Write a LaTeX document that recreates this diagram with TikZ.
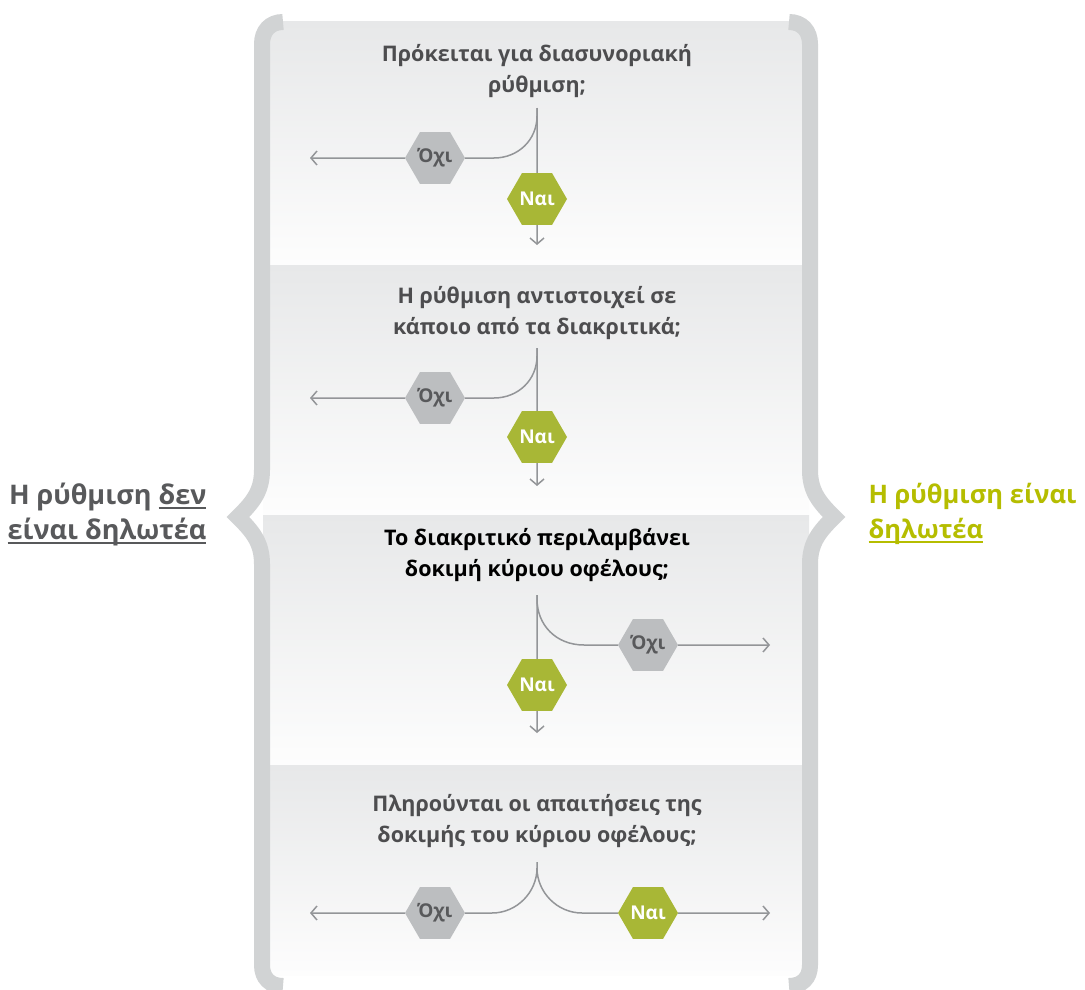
\documentclass[tikz,border=0pt]{standalone}
\usepackage{fontspec}
\setmainfont{Open Sans}
\usetikzlibrary{shapes.geometric,arrows.meta}
\definecolor{brk}{HTML}{D1D3D4}
\definecolor{ptop}{HTML}{E7E8E9}
\definecolor{pbot}{HTML}{FDFDFD}
\definecolor{ln}{HTML}{939598}
\definecolor{hexg}{HTML}{BCBEC0}
\definecolor{hexy}{HTML}{A8B736}
\definecolor{txtd}{HTML}{4D4D4F}
\definecolor{txtl}{HTML}{58595B}
\definecolor{olive}{HTML}{B5BD00}
\newcommand\myul[1]{\leavevmode\setbox0\hbox{#1}\rlap{\rule[-4.5pt]{\wd0}{1.7pt}}\box0}
\tikzset{
  bracket/.style={draw=brk,line width=16pt,line join=miter},
  panel/.style={top color=ptop,bottom color=pbot,draw=none},
  flow/.style={draw=ln,line width=1.5pt},
  flowarrow/.style={flow,-{Straight Barb[length=6pt,width=14pt,line width=1.5pt]}},
  hexbase/.style={regular polygon,regular polygon sides=6,minimum size=60pt,inner sep=0pt,font=\fontsize{19}{19}\selectfont\bfseries},
  hexno/.style={hexbase,fill=hexg,text=txtl},
  hexyes/.style={hexbase,fill=hexy,text=white},
  question/.style={align=center,font=\fontsize{21.5}{31}\selectfont\bfseries,text=txtd},
  side/.style={font=\fontsize{27}{35}\selectfont\bfseries}
}
\begin{document}
\begin{tikzpicture}[x=1pt,y=-1pt]
\useasboundingbox (0,0) rectangle (1085,990);
\fill[white] (0,0) rectangle (1085,990);
% panels
\shade[panel] (263,22) rectangle (809,265);
\shade[panel] (263,265) rectangle (809,515);
\shade[panel] (263,515) rectangle (809,765);
\shade[panel] (263,765) rectangle (809,975);
% brackets
\draw[bracket] (283,22) .. controls (270,22) and (262,31) .. (262,44) -- (262,470)
  .. controls (262,492) and (252,503) .. (238,517)
  .. controls (252,531) and (262,542) .. (262,564) -- (262,965)
  .. controls (262,978) and (270,986) .. (283,986);
\draw[bracket] (789,22) .. controls (802,22) and (810,31) .. (810,44) -- (810,470)
  .. controls (810,492) and (820,503) .. (834,517)
  .. controls (820,531) and (810,542) .. (810,564) -- (810,965)
  .. controls (810,978) and (802,986) .. (789,986);
% questions
\node[question] (q1) at (537,71) {Πρόκειται για διασυνοριακή\\ρύθμιση;};
\node[question] (q2) at (537,313) {Η ρύθμιση αντιστοιχεί σε\\κάποιο από τα διακριτικά;};
\node[question,text=black] (q3) at (537,555) {Το διακριτικό περιλαμβάνει\\δοκιμή κύριου οφέλους;};
\node[question] (q4) at (537,821) {Πληρούνται οι απαιτήσεις της\\δοκιμής του κύριου οφέλους;};
% side labels
\node[side,text=txtl,align=right,anchor=east] (lt) at (210,514) {Η ρύθμιση \myul{δεν}\\\myul{είναι δηλωτέα}};
\node[side,text=olive,align=left,anchor=west,font=\fontsize{25.5}{35}\selectfont\bfseries] (rt) at (865,514) {Η ρύθμιση είναι\\\myul{δηλωτέα}};
% coordinates
\coordinate (s1) at (537,108); \coordinate (e1L) at (310,158); \coordinate (e1D) at (537,245);
\coordinate (s2) at (537,348); \coordinate (e2L) at (310,398); \coordinate (e2D) at (537,486);
\coordinate (s3) at (537,595); \coordinate (e3R) at (770,645); \coordinate (e3D) at (537,733);
\coordinate (s4) at (537,862); \coordinate (e4L) at (310,913); \coordinate (e4R) at (770,913);
% hexagons
\node[hexno] (no1) at (435,158) {Όχι};
\node[hexyes] (yes1) at (537,199) {Ναι};
\node[hexno] (no2) at (435,398) {Όχι};
\node[hexyes] (yes2) at (537,437) {Ναι};
\node[hexno] (no3) at (648,645) {Όχι};
\node[hexyes] (yes3) at (537,685) {Ναι};
\node[hexno] (no4) at (435,913) {Όχι};
\node[hexyes] (yes4) at (648,913) {Ναι};
% connectors panel 1
\draw[flow] (s1) -- (yes1.north);
\draw[flowarrow] (yes1.south) -- (e1D);
\draw[flow] (s1) -- (537,116) .. controls (537,140) and (518,158) .. (494,158) -- (no1.east);
\draw[flowarrow] (no1.west) -- (e1L);
% panel 2
\draw[flow] (s2) -- (yes2.north);
\draw[flowarrow] (yes2.south) -- (e2D);
\draw[flow] (s2) -- (537,356) .. controls (537,380) and (518,398) .. (494,398) -- (no2.east);
\draw[flowarrow] (no2.west) -- (e2L);
% panel 3
\draw[flow] (s3) -- (yes3.north);
\draw[flowarrow] (yes3.south) -- (e3D);
\draw[flow] (s3) -- (537,599) .. controls (537,625) and (556,645) .. (584,645) -- (no3.west);
\draw[flowarrow] (no3.east) -- (e3R);
% panel 4
\draw[flow] (s4) -- (537,868) .. controls (537,892) and (517,913) .. (492,913) -- (no4.east);
\draw[flow] (537,868) .. controls (537,892) and (557,913) .. (582,913) -- (yes4.west);
\draw[flowarrow] (no4.west) -- (e4L);
\draw[flowarrow] (yes4.east) -- (e4R);
\end{tikzpicture}
\end{document}
